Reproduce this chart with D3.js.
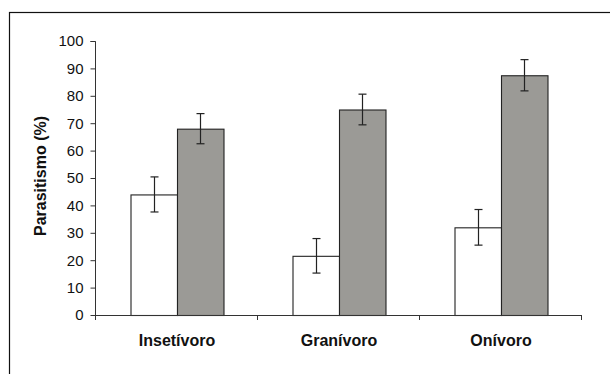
<!DOCTYPE html>
<html>
<head>
<meta charset="utf-8">
<script src="https://cdn.jsdelivr.net/npm/d3@7"></script>
<style>
  body { margin: 0; background: #fff; }
  svg { display: block; font-family: "Liberation Sans", Arial, sans-serif; }
</style>
</head>
<body>
<svg id="chart" width="610" height="374"></svg>
<script>
const categories = ["Insetívoro", "Granívoro", "Onívoro"];
const series = ["branco", "cinza"];
const whiteValues = [44, 21.6, 32];
const whiteErrors = [6.4, 6.3, 6.5];
const grayValues = [68, 75, 87.5];
const grayErrors = [5.5, 5.6, 5.7];
const yTicks = [0, 10, 20, 30, 40, 50, 60, 70, 80, 90, 100];

const colors = { branco: "#ffffff", cinza: "#9b9a96" };

const bars = [];
categories.forEach((c, i) => {
  bars.push({ cat: c, s: "branco", value: whiteValues[i], err: whiteErrors[i] });
  bars.push({ cat: c, s: "cinza", value: grayValues[i], err: grayErrors[i] });
});

const svg = d3.select("#chart");

// outer frame
svg.append("rect")
  .attr("x", 9.5)
  .attr("y", 12.5)
  .attr("width", 620)
  .attr("height", 400)
  .attr("fill", "none")
  .attr("stroke", "#111")
  .attr("stroke-width", 1.2);

const plotLeft = 96, plotRight = 582, plotTop = 41, plotBottom = 315;

const x0 = d3.scaleBand().domain(categories).range([plotLeft, plotRight]).padding(0);
const x1 = d3.scaleBand().domain(series).range([0, x0.bandwidth()])
  .paddingInner(0).paddingOuter(0.742);
const y = d3.scaleLinear().domain([0, 100]).range([plotBottom, plotTop]);

// y axis
const yAxis = d3.axisLeft(y).tickValues(yTicks).tickSize(5).tickPadding(7);
const gy = svg.append("g")
  .attr("transform", `translate(${plotLeft - 0.5},0)`)
  .call(yAxis);
gy.select(".domain").attr("stroke", "#333").attr("d", `M-5,${plotTop + 0.5}H0V${plotBottom + 5}`);
gy.selectAll(".tick line").attr("stroke", "#333");
gy.selectAll(".tick text")
  .attr("font-size", "15px")
  .attr("fill", "#111")
  .attr("font-family", "Liberation Sans, Arial, sans-serif");

// bars
svg.append("g")
  .selectAll("rect")
  .data(bars)
  .enter()
  .append("rect")
  .attr("x", (d) => x0(d.cat) + x1(d.s) + 0.5)
  .attr("y", (d) => y(d.value) + 0.5)
  .attr("width", x1.bandwidth())
  .attr("height", (d) => plotBottom - y(d.value))
  .attr("fill", (d) => colors[d.s])
  .attr("stroke", "#222")
  .attr("stroke-width", 1.1);

// error bars
const eb = svg.append("g").attr("stroke", "#222").attr("stroke-width", 1.2);
bars.forEach((d) => {
  const cx = Math.round(x0(d.cat) + x1(d.s) + x1.bandwidth() / 2) + 0.5;
  const yt = y(d.value + d.err), yb = y(d.value - d.err);
  eb.append("line").attr("x1", cx).attr("x2", cx).attr("y1", yt).attr("y2", yb);
  eb.append("line").attr("x1", cx - 4).attr("x2", cx + 4).attr("y1", yt).attr("y2", yt);
  eb.append("line").attr("x1", cx - 4).attr("x2", cx + 4).attr("y1", yb).attr("y2", yb);
});

// x axis with boundary ticks
const gx = svg.append("g").attr("stroke", "#333");
gx.append("line")
  .attr("x1", plotLeft - 0.5).attr("x2", plotRight)
  .attr("y1", plotBottom + 0.5).attr("y2", plotBottom + 0.5);
const bounds = categories.map((c) => x0(c) + x0.bandwidth());
gx.selectAll(".bt")
  .data(bounds)
  .enter()
  .append("line")
  .attr("x1", (d) => Math.round(d) - 0.5)
  .attr("x2", (d) => Math.round(d) - 0.5)
  .attr("y1", plotBottom)
  .attr("y2", plotBottom + 5);

svg.append("g")
  .selectAll("text")
  .data(categories)
  .enter()
  .append("text")
  .attr("x", (d) => x0(d) + x0.bandwidth() / 2)
  .attr("y", 345.5)
  .attr("text-anchor", "middle")
  .attr("font-size", "16px")
  .attr("font-weight", "bold")
  .attr("fill", "#111")
  .text((d) => d);

// y title
svg.append("text")
  .attr("transform", "translate(46,176) rotate(-90)")
  .attr("text-anchor", "middle")
  .attr("font-size", "16px")
  .attr("font-weight", "bold")
  .attr("fill", "#111")
  .text("Parasitismo (%)");
</script>
</body>
</html>
